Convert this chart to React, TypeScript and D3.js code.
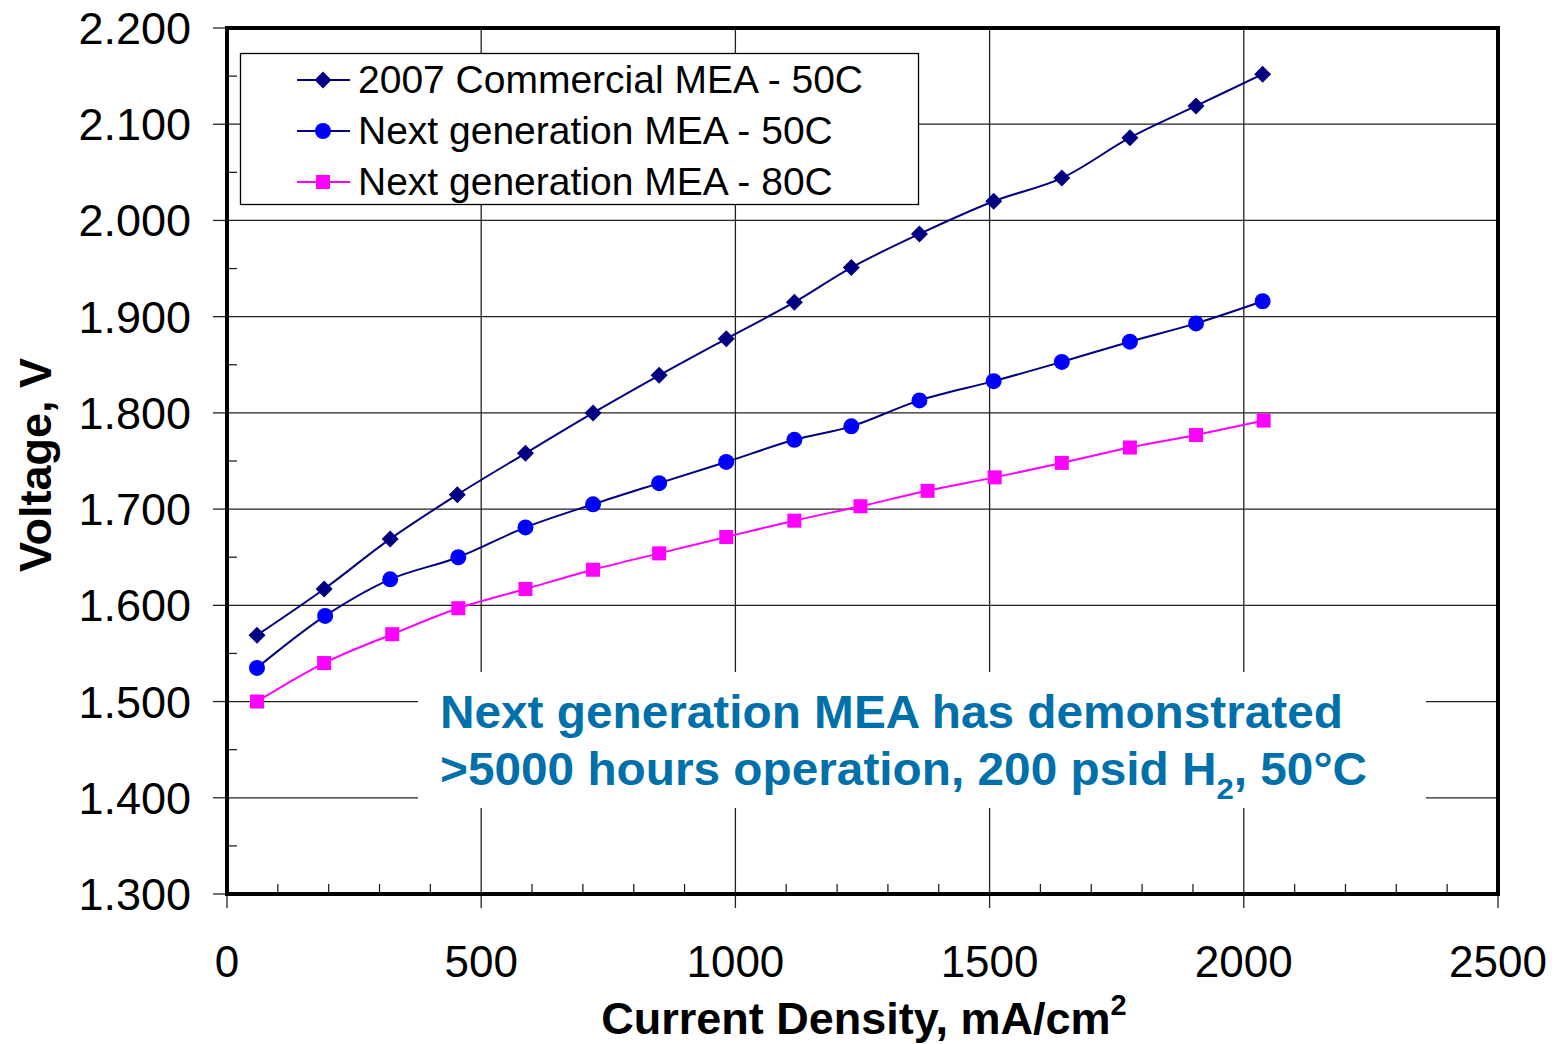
import React from "react";
import * as d3 from "d3";

const commercialX = [59, 191, 321, 453, 587, 720, 850, 982, 1116, 1228, 1362, 1508, 1642, 1776, 1906, 2037];
const commercialV = [1.569, 1.617, 1.669, 1.715, 1.758, 1.8, 1.839, 1.877, 1.915, 1.951, 1.986, 2.02, 2.044, 2.086, 2.119, 2.152];
const next50X = [59, 193, 321, 455, 587, 720, 850, 982, 1116, 1228, 1362, 1508, 1642, 1776, 1906, 2037];
const next50V = [1.535, 1.589, 1.627, 1.65, 1.681, 1.705, 1.727, 1.749, 1.772, 1.786, 1.813, 1.833, 1.853, 1.874, 1.893, 1.916];
const next80X = [59, 191, 325, 455, 587, 720, 850, 982, 1116, 1246, 1378, 1510, 1642, 1776, 1906, 2039];
const next80V = [1.5, 1.54, 1.57, 1.597, 1.617, 1.637, 1.654, 1.671, 1.688, 1.703, 1.719, 1.733, 1.748, 1.764, 1.777, 1.792];

const seriesNames = ["2007 Commercial MEA - 50C", "Next generation MEA - 50C", "Next generation MEA - 80C"];
const xTicks = [0, 500, 1000, 1500, 2000, 2500];
const yTicks = [1.3, 1.4, 1.5, 1.6, 1.7, 1.8, 1.9, 2.0, 2.1, 2.2];

const L = 227, R = 1498, T = 28, B = 894;

export default function App() {
  const x = d3.scaleLinear().domain([0, 2500]).range([L, R]);
  const y = d3.scaleLinear().domain([1.3, 2.2]).range([B, T]);
  const line = d3.line<[number, number]>().x(d => x(d[0])).y(d => y(d[1])).curve(d3.curveCatmullRom.alpha(0.5));

  const series = [
    { name: seriesNames[0], xs: commercialX, vs: commercialV, line: "#000080", fill: "#000080", marker: "diamond" },
    { name: seriesNames[1], xs: next50X, vs: next50V, line: "#000080", fill: "#0000FF", marker: "circle" },
    { name: seriesNames[2], xs: next80X, vs: next80V, line: "#FF00FF", fill: "#FF00FF", marker: "square" },
  ];

  const marker = (type: string, cx: number, cy: number, fill: string, key: any) => {
    if (type === "diamond") {
      const s = 8.5;
      return <path key={key} d={`M${cx},${cy - s}L${cx + s},${cy}L${cx},${cy + s}L${cx - s},${cy}Z`} fill={fill} />;
    }
    if (type === "circle") return <circle key={key} cx={cx} cy={cy} r={8} fill={fill} />;
    return <rect key={key} x={cx - 7} y={cy - 7} width={14} height={14} fill={fill} />;
  };

  const minorX = d3.range(0, 2501, 100).filter(v => v % 500 !== 0);
  const minorY = d3.range(1.35, 2.2, 0.1);

  return (
    <svg width={1557} height={1044} style={{ position: "absolute", left: 0, top: 0, background: "#fff" }} fontFamily="Liberation Sans, Arial, sans-serif">
      <rect x={0} y={0} width={1557} height={1044} fill="#fff" />
      {/* gridlines */}
      {yTicks.slice(1, -1).map(v => (
        <line key={"gy" + v} x1={L} x2={R} y1={y(v)} y2={y(v)} stroke="#222" strokeWidth={1.3} />
      ))}
      {xTicks.slice(1, -1).map(v => (
        <line key={"gx" + v} x1={x(v)} x2={x(v)} y1={T} y2={B} stroke="#222" strokeWidth={1.3} />
      ))}
      {/* y ticks */}
      {yTicks.map(v => (
        <line key={"ty" + v} x1={L - 14} x2={L} y1={y(v)} y2={y(v)} stroke="#222" strokeWidth={1.3} />
      ))}
      {minorY.map(v => (
        <line key={"my" + v} x1={L} x2={L + 10} y1={y(v)} y2={y(v)} stroke="#222" strokeWidth={1.3} />
      ))}
      {/* x ticks */}
      {xTicks.map(v => (
        <line key={"tx" + v} x1={x(v)} x2={x(v)} y1={B} y2={B + 14} stroke="#222" strokeWidth={1.3} />
      ))}
      {minorX.map(v => (
        <line key={"mx" + v} x1={x(v)} x2={x(v)} y1={B - 10} y2={B} stroke="#222" strokeWidth={1.3} />
      ))}
      {/* annotation background */}
      <rect x={418} y={672} width={1008} height={136} fill="#fff" />
      {/* series */}
      {series.map((s, i) => {
        const pts: [number, number][] = s.xs.map((xv, j) => [xv, s.vs[j]]);
        return (
          <g key={i}>
            <path d={line(pts) || ""} fill="none" stroke={s.line} strokeWidth={2} />
            {pts.map((p, j) => marker(s.marker, x(p[0]), y(p[1]), s.fill, j))}
          </g>
        );
      })}
      {/* frame */}
      <rect x={L} y={T} width={R - L} height={B - T} fill="none" stroke="#000" strokeWidth={4} />
      {/* legend */}
      <rect x={240.5} y={53.5} width={678} height={151} fill="#fff" stroke="#000" strokeWidth={1.3} />
      {series.map((s, i) => {
        const ly = 80 + i * 51;
        return (
          <g key={"lg" + i}>
            <line x1={297} x2={350} y1={ly} y2={ly} stroke={s.line} strokeWidth={2} />
            {marker(s.marker, 323, ly, s.fill, "m")}
            <text x={358} y={ly + 13} fontSize={39} fill="#000">{s.name}</text>
          </g>
        );
      })}
      {/* tick labels */}
      {yTicks.map(v => (
        <text key={"ly" + v} x={191} y={y(v) + 16} fontSize={45} textAnchor="end" fill="#000">{v.toFixed(3)}</text>
      ))}
      {xTicks.map(v => (
        <text key={"lx" + v} x={x(v)} y={977} fontSize={44} textAnchor="middle" fill="#000">{v}</text>
      ))}
      {/* axis titles */}
      <text x={864} y={1034} fontSize={45} fontWeight="bold" textAnchor="middle" fill="#000">
        Current Density, mA/cm<tspan fontSize={29} dy={-19}>2</tspan>
      </text>
      <text transform="translate(51,465) rotate(-90)" fontSize={45} fontWeight="bold" textAnchor="middle" fill="#000">Voltage, V</text>
      {/* annotation */}
      <text x={440} y={728} fontSize={46} fontWeight="bold" fill="#0070AA" textLength={903} lengthAdjust="spacingAndGlyphs">
        Next generation MEA has demonstrated
      </text>
      <text x={440} y={785} fontSize={46} fontWeight="bold" fill="#0070AA" textLength={927} lengthAdjust="spacingAndGlyphs">
        &gt;5000 hours operation, 200 psid H<tspan fontSize={30} dy={14}>2</tspan><tspan dy={-14}>, 50°C</tspan>
      </text>
    </svg>
  );
}
